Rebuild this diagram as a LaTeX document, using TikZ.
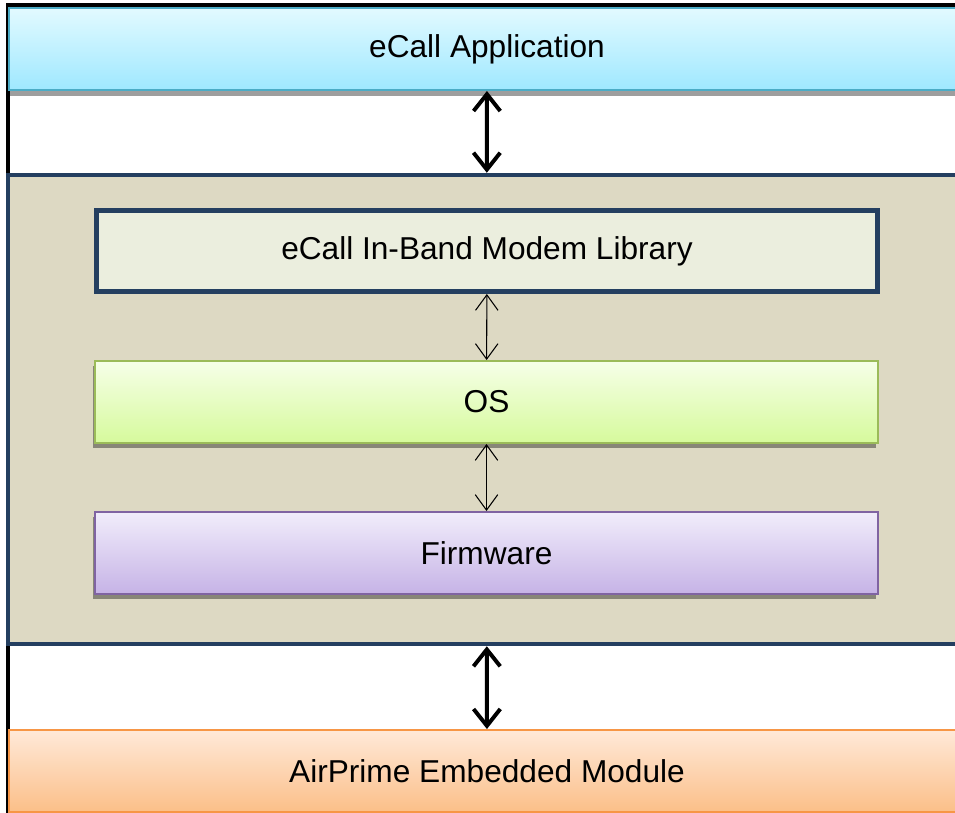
\documentclass[tikz,border=0pt]{standalone}
\usepackage{fontspec}
\setmainfont{Liberation Sans}
\usepackage{tikz}
\usetikzlibrary{
  arrows.meta,
  shadows
}
\definecolor{appedge}{HTML}{4BACC6}
\definecolor{apptop}{HTML}{E2FAFF}
\definecolor{appbot}{HTML}{9FE8FF}
\definecolor{modnavy}{HTML}{243F60}
\definecolor{modtan}{HTML}{DDD9C3}
\definecolor{libfill}{HTML}{EBEEDE}
\definecolor{osedge}{HTML}{9BBB59}
\definecolor{ostop}{HTML}{F6FFE8}
\definecolor{osbot}{HTML}{D6FA9C}
\definecolor{fwedge}{HTML}{8064A2}
\definecolor{fwtop}{HTML}{F1EDFB}
\definecolor{fwbot}{HTML}{C6B3E6}
\definecolor{airedge}{HTML}{F79646}
\definecolor{airtop}{HTML}{FFE9D9}
\definecolor{airbot}{HTML}{FBBF88}
\tikzset{
  layer/.style={inner sep=0pt,
    font=\fontsize{22.5}{27}\selectfont},
  widebox/.style={layer, line width=1.4pt,
    minimum width={956*0.025cm}, minimum height={82*0.025cm}},
  innerbox/.style={layer, line width=1.4pt,
    minimum width={783*0.025cm}, minimum height={82*0.025cm}},
  boxshadow/.style={drop shadow={shadow xshift=-1.4pt,
    shadow yshift=-3.5pt, fill=black, opacity=0.38}},
  bigarr/.style={{Straight Barb[length=12pt, width=19pt]}-{Straight Barb[length=12pt, width=19pt]},
    line width=2.8pt},
  thinarr/.style={{Straight Barb[length=11pt, width=16pt]}-{Straight Barb[length=11pt, width=16pt]},
    line width=0.75pt},
}

\begin{document}
\begin{tikzpicture}[x=0.025cm, y=-0.025cm]
  \useasboundingbox (0,0) rectangle (955,812);
  % outer frame, only top and left edge are seen
  \draw[line width=2.4pt] (8,5) rectangle (995,840);

  % application on top
  \node[widebox, draw=appedge, top color=apptop, bottom color=appbot,
        drop shadow={shadow xshift=0pt, shadow yshift=-4.5pt,
          fill=black, opacity=0.38}] (app) at (487,49)
    {eCall Application};

  % module body with its three layers
  \node[draw=modnavy, line width=3.2pt, fill=modtan,
        minimum width={957*0.025cm}, minimum height={469*0.025cm}]
    (module) at (486.5,409.5) {};
  \node[innerbox, draw=modnavy, line width=3.5pt, fill=libfill,
        minimum width={781*0.025cm}, minimum height={81*0.025cm},
        drop shadow={shadow xshift=-1pt, shadow yshift=-1pt,
          fill=black, opacity=0.25}] (lib) at (487,251)
    {eCall In-Band Modem Library};
  \node[innerbox, draw=osedge, top color=ostop, bottom color=osbot,
        boxshadow] (os) at (486.5,402) {OS};
  \node[innerbox, draw=fwedge, top color=fwtop, bottom color=fwbot,
        boxshadow] (fw) at (486.5,553) {Firmware};

  % embedded module at the bottom
  \node[widebox, draw=airedge, top color=airtop, bottom color=airbot]
    (air) at (487,771) {AirPrime Embedded Module};

  % links
  \draw[bigarr] (app) -- (module);
  \draw[thinarr] (lib) -- (os);
  \draw[thinarr] (os) -- (fw);
  \draw[bigarr] (module) -- (air);
\end{tikzpicture}
\end{document}
